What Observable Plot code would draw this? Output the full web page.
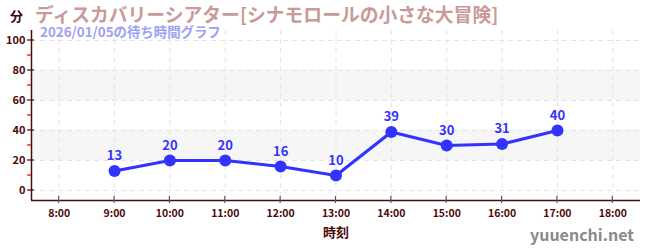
<!DOCTYPE html>
<html><head><meta charset="utf-8">
<script src="https://cdn.jsdelivr.net/npm/d3@7"></script>
<script src="https://cdn.jsdelivr.net/npm/@observablehq/plot@0.6"></script>
<style>body{margin:0;background:#fff;font-family:"Noto Sans CJK JP","Noto Sans",sans-serif}</style>
</head><body><div id="chart"></div>
<script>
const hours = [9,10,11,12,13,14,15,16,17];
const waits = [13,20,20,16,10,39,30,31,40];
const xTicks = [8,9,10,11,12,13,14,15,16,17,18];
const yTicks = [0,20,40,60,80,100];
const yMinor = [10,30,50,70,90];
const bands = [[20,40],[60,80]];
const title = "ディスカバリーシアター[シナモロールの小さな大冒険]";
const subtitle = "2026/01/05の待ち時間グラフ";
const unitLabel = "分";
const xLabel = "時刻";
const watermark = "yuuenchi.net";

const data = hours.map((h,i)=>({h, w: waits[i]}));
const axisColor = "#4d0a0a";
const lineColor = "#3333ff";
const yDom = [-6.67, 106.67];
const xDom = [7.5, 18.5];

const chart = Plot.plot({
  width: 650, height: 250,
  marginTop: 30, marginBottom: 50, marginLeft: 31, marginRight: 10,
  style: {fontFamily: '"Noto Sans CJK JP","Noto Sans",sans-serif', background: "#fff"},
  x: {type: "linear", domain: xDom, axis: null},
  y: {type: "linear", domain: yDom, axis: null},
  marks: [
    Plot.rectY(bands, {x1: xDom[0], x2: xDom[1], y1: d=>d[0], y2: d=>d[1], fill: "#f6f6f6"}),
    Plot.ruleY(yTicks, {stroke: "#e4e4e4", strokeDasharray: "5,4"}),
    Plot.ruleX(xTicks, {stroke: "#e4e4e4", strokeDasharray: "5,4"}),
    Plot.ruleX([xDom[0]], {stroke: axisColor, strokeWidth: 1.5}),
    Plot.ruleY([yDom[0]], {stroke: axisColor, strokeWidth: 1.5}),
    Plot.text(yTicks, {x: xDom[0], y: d=>d, text: d=>String(d), textAnchor: "end", dx: -6, fill: axisColor, fontSize: 11, fontWeight: "bold"}),
    Plot.text(xTicks, {x: d=>d, y: yDom[0], text: d=>d+":00", dy: 13, fill: axisColor, fontSize: 10.5, fontWeight: "bold"}),
    Plot.line(data, {x: "h", y: "w", stroke: lineColor, strokeWidth: 3.2}),
    Plot.dot(data, {x: "h", y: "w", r: 6, fill: lineColor}),
    Plot.text(data, {x: "h", y: "w", text: d=>String(d.w), dy: -15, fill: lineColor, fontSize: 13, fontWeight: "bold"})
  ]
});
document.getElementById("chart").appendChild(chart);

const sx = chart.scale("x"), sy = chart.scale("y");
const svg = d3.select(chart);
const ax = sx.apply(xDom[0]);
yTicks.forEach(v=>{
  svg.append("line").attr("x1", ax-4).attr("x2", ax+3).attr("y1", sy.apply(v)).attr("y2", sy.apply(v)).attr("stroke", axisColor).attr("stroke-width",1.2);
});
yMinor.forEach(v=>{
  svg.append("line").attr("x1", ax-4).attr("x2", ax).attr("y1", sy.apply(v)).attr("y2", sy.apply(v)).attr("stroke", "#e00000").attr("stroke-width",1.2);
});
const ay = sy.apply(yDom[0]);
xTicks.forEach(v=>{
  svg.append("line").attr("x1", sx.apply(v)).attr("x2", sx.apply(v)).attr("y1", ay-4).attr("y2", ay+3).attr("stroke", "#555").attr("stroke-width",1.2);
});
const addText = (t,x,y,opts)=>{
  const el = svg.append("text").attr("x",x).attr("y",y).text(t)
    .attr("font-family",'"Noto Sans CJK JP","Noto Sans",sans-serif').attr("font-weight","bold").attr("text-anchor","start");
  for (const k in opts) el.attr(k, opts[k]);
};
addText(unitLabel, 10, 21, {"font-size":13, fill: "#3a0a0a"});
addText(title, 35, 22, {"font-size":18.8, fill: "#c99a9a"});
addText(subtitle, 40, 37, {"font-size":13.4, fill: "#a0a0f5"});
addText(xLabel, 336, 237, {"font-size":13, fill: axisColor, "text-anchor":"middle"});
addText(watermark, 634, 241, {"font-size":16, fill: "#8a8a8a", "text-anchor":"end"});
</script></body></html>
